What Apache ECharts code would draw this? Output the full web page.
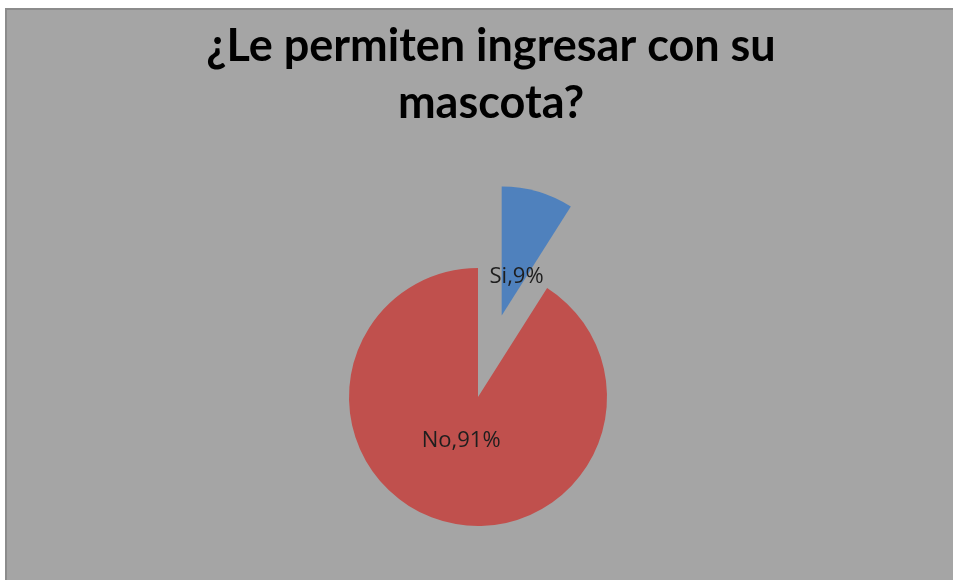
<!DOCTYPE html>
<html><head><meta charset="utf-8">
<script src="https://cdn.jsdelivr.net/npm/echarts@6/dist/echarts.min.js"></script>
<style>
html,body{margin:0;padding:0;background:#fff;width:953px;height:580px;overflow:hidden}
#box{position:absolute;left:5px;top:8px;width:946px;height:570px;background:#a5a5a5;border-left:2px solid #8c8c8c;border-top:2px solid #8c8c8c}
#c{width:946px;height:570px}
</style></head>
<body><div id="box"><div id="c"></div></div>
<script>
var titleText = '¿Le permiten ingresar con su\nmascota?';
var categories = ['Si', 'No'];
var values = [9, 91];
var colors = ['#4f81bd', '#c0504d'];

var chart = echarts.init(document.getElementById('c'));
chart.setOption({
  backgroundColor: '#a5a5a5',
  animation: false,
  title: {
    text: titleText,
    left: 479,
    textAlign: 'center',
    top: 3,
    textStyle: {fontFamily: 'Lato', fontWeight: 'bold', fontSize: 45, lineHeight: 57, color: '#000'}
  },
  series: [{
    type: 'pie',
    center: [471, 387],
    radius: 129,
    startAngle: 90,
    clockwise: true,
    selectedMode: 'single',
    selectedOffset: 85,
    label: {
      position: 'inside',
      formatter: function(p){ return p.name + ',' + p.value + '%'; },
      fontFamily: 'Open Sans',
      fontSize: 22,
      color: '#1e1e1e'
    },
    labelLayout: function(p){
      return p.dataIndex === 0 ? {dx: -4, dy: 26} : {dx: 2, dy: -21};
    },
    labelLine: {show: false},
    emphasis: {disabled: true},
    data: categories.map(function(n, i){
      return {name: n, value: values[i], selected: i === 0, itemStyle: {color: colors[i]}};
    })
  }]
});
</script></body></html>
